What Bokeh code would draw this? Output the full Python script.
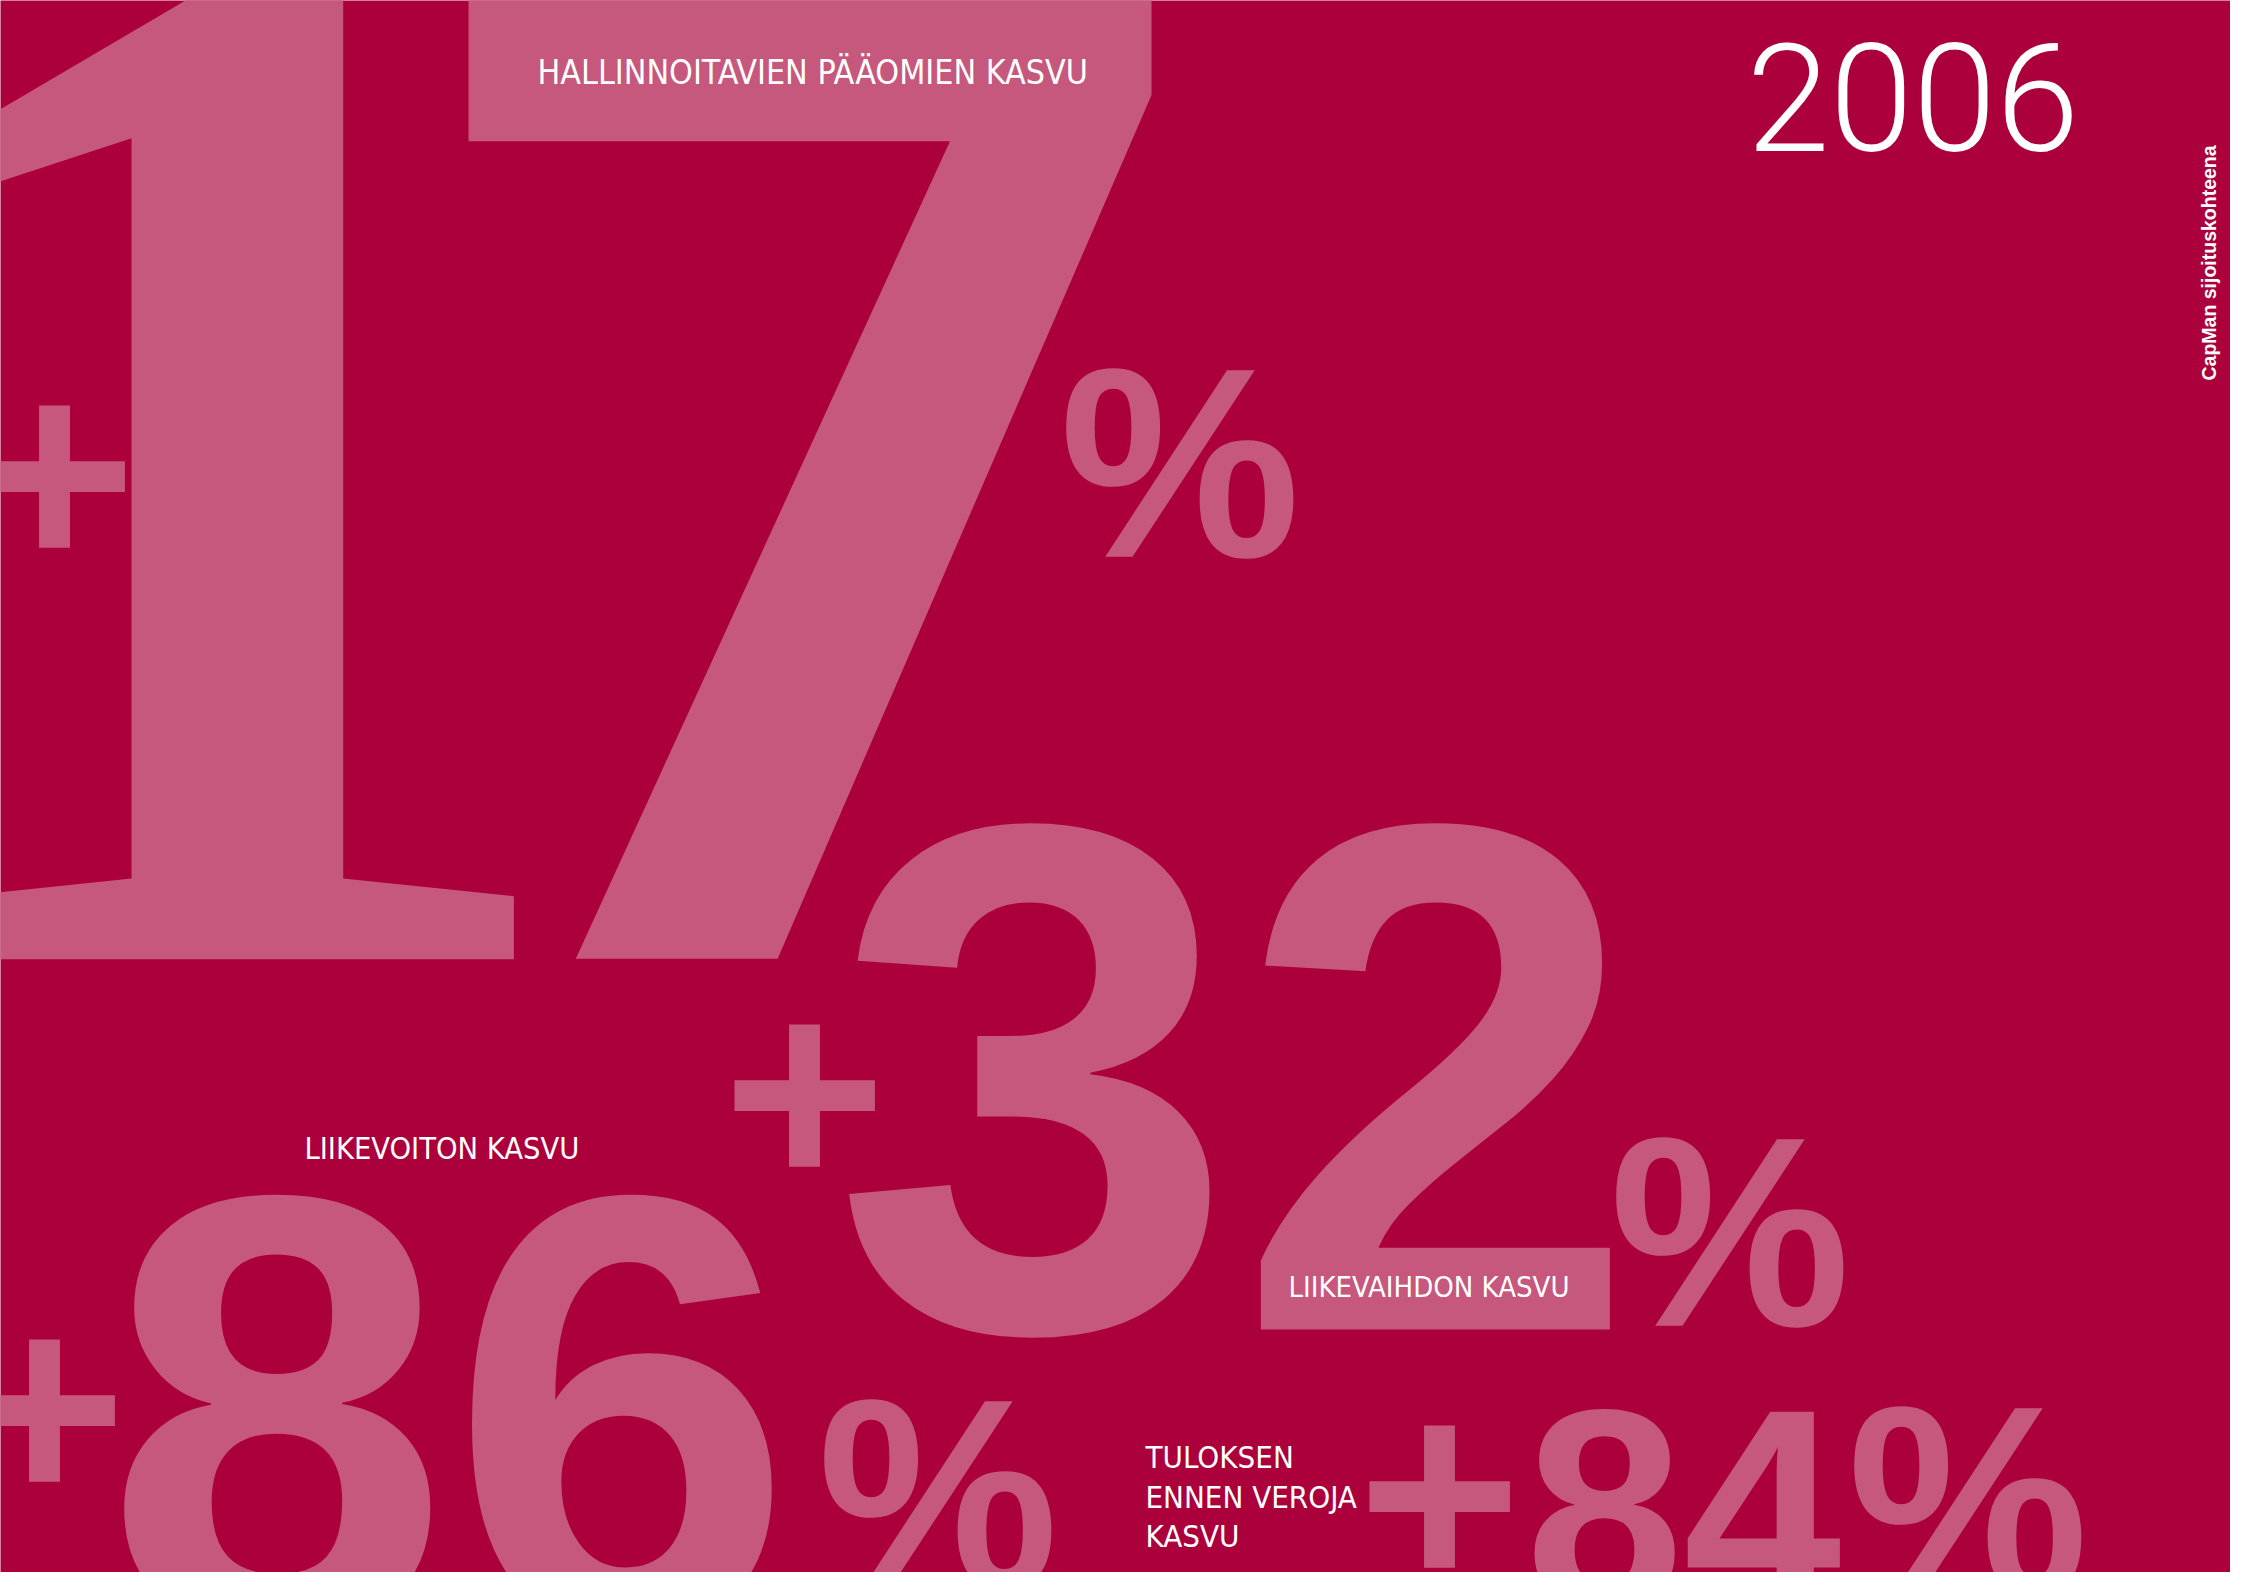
from bokeh.plotting import figure
from bokeh.models import Range1d, ColumnDataSource
from bokeh.core.properties import value
from bokeh.embed import file_html
from bokeh.resources import INLINE

# ---------------- data ----------------
values = [17, 32, 86, 84]                     # growth, %
labels = ["HALLINNOITAVIEN PÄÄOMIEN KASVU",
          "LIIKEVAIHDON KASVU",
          "LIIKEVOITON KASVU",
          "TULOKSEN\nENNEN VEROJA\nKASVU"]
year = "2006"
tagline = "CapMan sijoituskohteena"

# ---------------- style / layout ----------------
BG = "#AC003C"
PINK = "#C6587D"
WHITE = "#FFFFFF"
PW, PH = 2230, 1572          # drawing area = page pixels (1 unit = 1 px)
K = 0.335   # correction: rendered baseline sits K*size below the anchor

SERIF = value("Liberation Serif")
SANS = value("Liberation Sans")
ROBOTO = value("Roboto")
COND = value("'DejaVu Sans Condensed', 'Liberation Sans'")
LIGHT = value("'Roboto Light', Roboto")

p = figure(width=PW, height=PH, x_range=Range1d(0, PW), y_range=Range1d(PH, 0),
           output_backend="svg", toolbar_location=None, min_border=0,
           x_axis_location=None, y_axis_location=None)
p.grid.visible = False
p.outline_line_color = None
p.background_fill_color = BG
p.border_fill_color = BG


def txt(x, y, t, font, size, color, align="left", style="normal", angle=0.0, vert=False):
    """y is the wanted baseline (in page pixels)."""
    if vert:
        x = x - K * size
    else:
        y = y - K * size
    src = ColumnDataSource(dict(x=[x], y=[y], t=[t]))
    p.text(x="x", y="y", text="t", source=src, text_font=font,
           text_font_size=f"{size:.1f}px", text_color=color,
           text_align=align, text_baseline="alphabetic",
           text_font_style=style, angle=angle)


PLUS_SIZE = 280
PCT_SIZE = 271
layout = [
    dict(plus=(54, 466), digits=None, pct=(1059, 553)),
    dict(plus=(804, 1085), digits=(832, 1317, 725), pct=(1609, 1322)),
    dict(plus=(44, 1400), digits=(104, 1617, 620), pct=(817, 1584)),
    dict(plus=(1439, 1486), digits=(1525, 1602, 284), pct=(1847, 1591)),
]

for v, lay in zip(values, layout):
    cx, cy = lay["plus"]
    txt(cx, cy + 0.352 * PLUS_SIZE, "+", SANS, PLUS_SIZE, PINK, align="center", style="bold")
    if lay["digits"] is None:
        # the big "17": figures set one by one (tight spacing, mixed cut)
        c1, c7 = str(v)
        txt(216, 969, c1, SERIF, 1500, PINK, align="center", style="bold")
        txt(818, 925, c7, ROBOTO, 1360, PINK, align="center", style="bold")
    else:
        dx, dy, fs = lay["digits"]
        txt(dx, dy, str(v), SANS, fs, PINK, style="bold")
    px_, py_ = lay["pct"]
    txt(px_, py_, "%", SANS, PCT_SIZE, PINK, style="bold")

# labels
label_pos = [(537, 83, 33.7), (1288, 1296, 29), (304, 1158, 30.5), (1145, 1467, 31)]
for lab, (lx, ly, fs) in zip(labels, label_pos):
    for i, line in enumerate(lab.split("\n")):
        txt(lx, ly + i * 39.5, line, COND, fs, WHITE)

# year and vertical tagline
txt(1746, 147, year, LIGHT, 150, WHITE)
txt(2215, 380, tagline, SANS, 19.5, WHITE, style="bold", angle=1.5707963, vert=True)

open("out.html", "w").write(file_html(p, INLINE))
